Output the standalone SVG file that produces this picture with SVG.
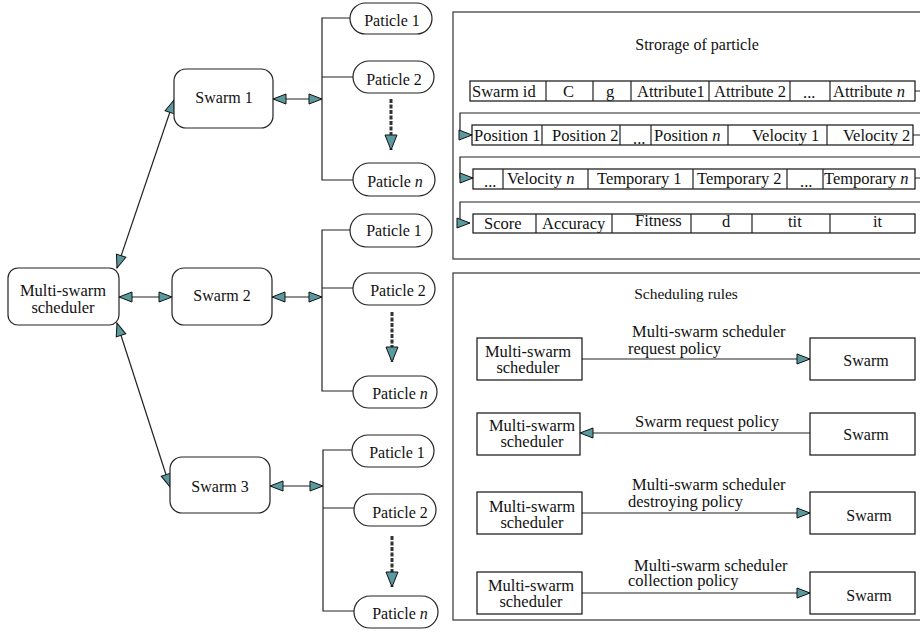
<svg xmlns="http://www.w3.org/2000/svg" width="920" height="633" viewBox="0 0 920 633" font-family="'Liberation Serif', 'DejaVu Serif', serif">
<style>
text{font-family:'Liberation Serif','DejaVu Serif',serif;font-size:16px;fill:#111}
.c{text-anchor:middle}
.r{font-size:16.5px}
.node{fill:#fff;stroke:#222;stroke-width:1.2}
.box{fill:#fff;stroke:#111;stroke-width:1.2}
.ln{fill:none;stroke:#222;stroke-width:1.2}
.dash{fill:none;stroke:#333;stroke-width:3;stroke-dasharray:4 1.5}
.panel{fill:none;stroke:#444;stroke-width:1.3}
</style>
<defs>
<marker id="arr" markerUnits="userSpaceOnUse" markerWidth="16" markerHeight="12" refX="13" refY="5" orient="auto-start-reverse" overflow="visible">
<path d="M0,0 L13,5 L0,10 Z" fill="#5a9a9e" stroke="#111" stroke-width="1"/>
</marker>
<marker id="darr" markerUnits="userSpaceOnUse" markerWidth="16" markerHeight="14" refX="15" refY="6" orient="auto" overflow="visible">
<path d="M0,0 L15,6 L0,12 Z" fill="#5a9a9e" stroke="#111" stroke-width="1"/>
</marker>
</defs>

<rect class="panel" x="453" y="12" width="480" height="247"/>
<rect class="panel" x="453" y="273" width="480" height="347"/>
<text class="c" x="697" y="50">Strorage of particle</text>
<text class="c" x="686" y="299" style="font-size:15.5px">Scheduling rules</text>

<g id="connectors">
<line class="ln" x1="117" y1="268" x2="174" y2="100" marker-start="url(#arr)" marker-end="url(#arr)"/>
<line class="ln" x1="119" y1="297" x2="172" y2="297" marker-start="url(#arr)" marker-end="url(#arr)"/>
<line class="ln" x1="117" y1="323" x2="170" y2="487" marker-start="url(#arr)" marker-end="url(#arr)"/>
<line class="ln" x1="273" y1="99" x2="322" y2="99" marker-start="url(#arr)" marker-end="url(#arr)"/>
<line class="ln" x1="272" y1="297" x2="322" y2="297" marker-start="url(#arr)" marker-end="url(#arr)"/>
<line class="ln" x1="270" y1="486" x2="323" y2="486" marker-start="url(#arr)" marker-end="url(#arr)"/>
<path class="ln" d="M350,18 H322 V180 H353 M353,77 H322"/>
<path class="ln" d="M350,230 H322 V391 H353 M353,288 H322"/>
<path class="ln" d="M352,450 H323 V611 H354 M354,508 H323"/>
<line class="dash" x1="391" y1="99" x2="391" y2="150" marker-end="url(#darr)"/>
<line class="dash" x1="392" y1="312" x2="392" y2="362" marker-end="url(#darr)"/>
<line class="dash" x1="392" y1="536" x2="392" y2="587" marker-end="url(#darr)"/>
<path class="ln" d="M915,91 H920 M920,113 H460 V135 H472" marker-end="url(#arr)"/>
<path class="ln" d="M913,135 H920 M920,157 H460 V178 H473" marker-end="url(#arr)"/>
<path class="ln" d="M915,178 H920 M920,202 H460 V223 H470" marker-end="url(#arr)"/>
<line class="ln" x1="582" y1="359" x2="810" y2="359" marker-end="url(#arr)"/>
<line class="ln" x1="810" y1="433" x2="580" y2="433" marker-end="url(#arr)"/>
<line class="ln" x1="582" y1="513" x2="810" y2="513" marker-end="url(#arr)"/>
<line class="ln" x1="582" y1="593" x2="810" y2="593" marker-end="url(#arr)"/>
<text class="r" x="632" y="337">Multi-swarm scheduler</text>
<text class="r" x="628" y="354">request policy</text>
<text class="r" x="635" y="427">Swarm request policy</text>
<text class="r" x="632" y="490">Multi-swarm scheduler</text>
<text class="r" x="628" y="507">destroying policy</text>
<text class="r" x="634" y="571">Multi-swarm scheduler</text>
<text class="r" x="628" y="586">collection policy</text>
</g>

<g id="scheduler"><rect class="node" x="8" y="268" width="111" height="57" rx="10"/>
<text class="c r" x="63" y="296">Multi-swarm</text><text class="c r" x="63" y="313">scheduler</text></g>
<g id="swarm1"><rect class="node" x="174" y="69" width="99" height="59" rx="12"/><text class="c" x="224" y="103">Swarm 1</text></g>
<g id="swarm2"><rect class="node" x="172" y="268" width="100" height="57" rx="12"/><text class="c" x="222" y="301">Swarm 2</text></g>
<g id="swarm3"><rect class="node" x="170" y="457" width="100" height="56" rx="12"/><text class="c" x="220" y="492">Swarm 3</text></g>

<g id="s1p1"><rect class="node" x="350" y="3" width="82" height="31" rx="15.5"/><text class="c" x="392" y="26">Paticle 1</text></g>
<g id="s1p2"><rect class="node" x="353" y="61" width="81" height="32" rx="16"/><text class="c" x="394" y="85">Paticle 2</text></g>
<g id="s1pn"><rect class="node" x="353" y="163" width="82" height="33" rx="16.5"/><text class="c" x="395" y="187">Paticle <tspan font-style="italic">n</tspan></text></g>

<g id="s2p1"><rect class="node" x="350" y="214" width="82" height="33" rx="16.5"/><text class="c" x="394" y="236">Paticle 1</text></g>
<g id="s2p2"><rect class="node" x="353" y="273" width="82" height="32" rx="16"/><text class="c" x="398" y="296">Paticle 2</text></g>
<g id="s2pn"><rect class="node" x="353" y="376" width="84" height="32" rx="16"/><text class="c" x="400" y="399">Paticle <tspan font-style="italic">n</tspan></text></g>

<g id="s3p1"><rect class="node" x="352" y="435" width="82" height="32" rx="16"/><text class="c" x="397" y="458">Paticle 1</text></g>
<g id="s3p2"><rect class="node" x="354" y="494" width="82" height="32" rx="16"/><text class="c" x="400" y="518">Paticle 2</text></g>
<g id="s3pn"><rect class="node" x="354" y="596" width="84" height="32" rx="16"/><text class="c" x="400" y="619">Paticle <tspan font-style="italic">n</tspan></text></g>

<g id="row1">
<rect class="box" x="470" y="81" width="445" height="20"/>
<path class="ln" d="M546,81V101M593,81V101M631,81V101M709,81V101M790,81V101M830,81V101"/>
<text class="r" x="472" y="97">Swarm id</text><text class="r" x="563" y="97">C</text><text class="r" x="606" y="97">g</text>
<text class="r" x="637" y="97">Attribute1</text><text class="r" x="714" y="97">Attribute 2</text><text class="r" x="803" y="98">...</text>
<text class="r" x="833" y="97">Attribute <tspan font-style="italic">n</tspan></text>
</g>
<g id="row2">
<rect class="box" x="472" y="125" width="441" height="20"/>
<path class="ln" d="M542,125V145M620,125V145M651,125V145M728,125V145M827,125V145"/>
<text class="r" x="474" y="141">Position 1</text><text class="r" x="552" y="141">Position 2</text><text class="r" x="633" y="144">...</text>
<text class="r" x="654" y="141">Position <tspan font-style="italic">n</tspan></text><text class="r" x="752" y="141">Velocity 1</text><text class="r" x="843" y="141">Velocity 2</text>
</g>
<g id="row3">
<rect class="box" x="473" y="169" width="442" height="20"/>
<path class="ln" d="M503,169V189M588,169V189M693,169V189M787,169V189M823,169V189"/>
<text class="r" x="484" y="187">...</text><text class="r" x="507" y="184">Velocity <tspan font-style="italic">n</tspan></text>
<text class="r" x="597" y="184">Temporary 1</text><text class="r" x="697" y="184">Temporary 2</text><text class="r" x="800" y="187">...</text>
<text class="r" x="824" y="184">Temporary <tspan font-style="italic">n</tspan></text>
</g>
<g id="row4">
<rect class="box" x="473" y="214" width="442" height="19"/>
<path class="ln" d="M536,214V233M612,214V233M691,214V233M752,214V233M830,214V233"/>
<text class="r" x="484" y="229">Score</text><text class="r" x="542" y="229">Accuracy</text><text class="r" x="635" y="226">Fitness</text>
<text class="r" x="722" y="227">d</text><text class="r" x="788" y="227">tit</text><text class="r" x="873" y="227">it</text>
</g>

<g id="r1l"><rect class="box" x="477" y="338" width="105" height="42"/><text class="c r" x="528" y="357">Multi-swarm</text><text class="c r" x="528" y="373">scheduler</text></g>
<g id="r1r"><rect class="box" x="810" y="338" width="105" height="42"/><text class="c" x="866" y="366">Swarm</text></g>
<g id="r2l"><rect class="box" x="477" y="413" width="103" height="42"/><text class="c r" x="532" y="431">Multi-swarm</text><text class="c r" x="532" y="447">scheduler</text></g>
<g id="r2r"><rect class="box" x="810" y="413" width="105" height="42"/><text class="c" x="866" y="440">Swarm</text></g>
<g id="r3l"><rect class="box" x="477" y="492" width="105" height="42"/><text class="c r" x="532" y="512">Multi-swarm</text><text class="c r" x="532" y="528">scheduler</text></g>
<g id="r3r"><rect class="box" x="810" y="492" width="105" height="42"/><text class="c" x="869" y="521">Swarm</text></g>
<g id="r4l"><rect class="box" x="477" y="572" width="105" height="42"/><text class="c r" x="531" y="591">Multi-swarm</text><text class="c r" x="531" y="607">scheduler</text></g>
<g id="r4r"><rect class="box" x="810" y="572" width="105" height="42"/><text class="c" x="869" y="601">Swarm</text></g>
</svg>
